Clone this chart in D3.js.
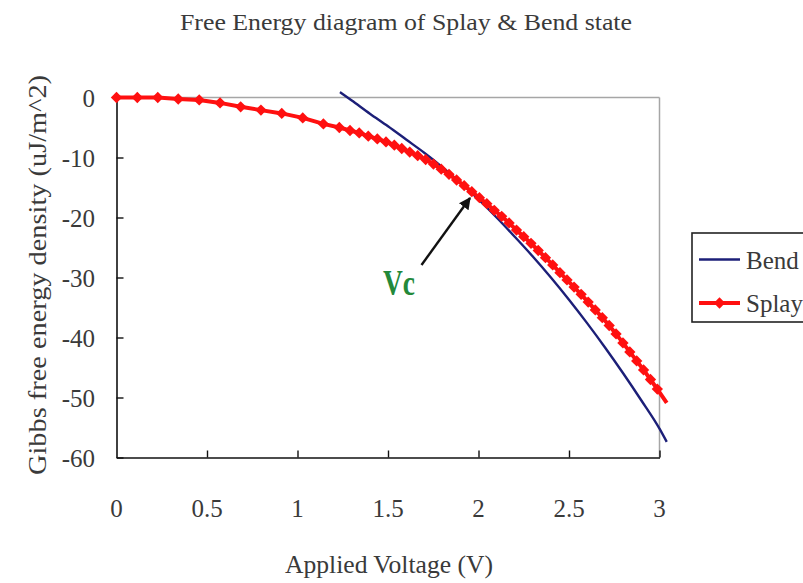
<!DOCTYPE html>
<html>
<head>
<meta charset="utf-8">
<script src="https://cdn.jsdelivr.net/npm/d3@7"></script>
<style>
  html, body { margin: 0; padding: 0; background: #fff; }
  svg { display: block; }
  svg text { font-family: "Liberation Serif", "DejaVu Serif", serif; }
</style>
</head>
<body>
<div id="chart"></div>
<script>
// ---- data ----
const splayVoltage = [0, 0.115, 0.228, 0.341, 0.457, 0.572, 0.686, 0.798, 0.913, 1.029,
  1.143, 1.231, 1.29, 1.341, 1.391, 1.441, 1.489, 1.535, 1.576, 1.62,
  1.664, 1.708, 1.751, 1.794, 1.837, 1.879, 1.921, 1.963, 2.005, 2.046,
  2.087, 2.128, 2.169, 2.21, 2.25, 2.29, 2.33, 2.37, 2.41, 2.45,
  2.489, 2.528, 2.567, 2.606, 2.645, 2.684, 2.722, 2.76, 2.798, 2.836,
  2.874, 2.912, 2.95, 2.988, 3.04];
const splayEnergy = [0, 0, 0, -0.25, -0.4, -0.9, -1.55, -2.1, -2.65, -3.4,
  -4.4, -5.0, -5.5, -5.9, -6.45, -6.9, -7.4, -7.95, -8.5, -9.1,
  -9.7, -10.35, -11.1, -11.95, -12.8, -13.75, -14.7, -15.7, -16.7, -17.7,
  -18.8, -19.8, -20.9, -22.1, -23.2, -24.3, -25.5, -26.7, -27.9, -29.2,
  -30.4, -31.6, -32.8, -34.1, -35.4, -36.7, -38.0, -39.4, -40.9, -42.4,
  -43.9, -45.4, -47.0, -48.6, -50.9];

const bendVoltage = [1.235, 1.3, 1.4, 1.5, 1.6, 1.7, 1.8, 1.9, 2.0, 2.1,
  2.2, 2.3, 2.4, 2.5, 2.6, 2.7, 2.8, 2.9, 3.0, 3.04];
const bendEnergy = [0.9, -0.5, -2.7, -4.8, -7.0, -9.2, -11.6, -14.2, -17.0, -20.0,
  -23.2, -26.5, -30.0, -33.7, -37.6, -41.7, -46.0, -50.5, -55.2, -57.4];

const xTicks = [0, 0.5, 1, 1.5, 2, 2.5, 3];
const xTickLabels = ["0", "0.5", "1", "1.5", "2", "2.5", "3"];
const yTicks = [0, -10, -20, -30, -40, -50, -60];
const seriesNames = ["Bend", "Splay"];
const vcLabel = "Vc";

// ---- setup ----
const width = 803, height = 583;
const plot = { left: 116.5, right: 659.5, top: 97.5, bottom: 457.5 };
const red = "#ff1010", navy = "#1c1f78", axisGray = "#a6a6a6", textGray = "#3a3a3a";
const serif = "Liberation Serif";

const svg = d3.select("#chart").append("svg")
  .attr("width", width)
  .attr("height", height);

svg.append("rect").attr("width", width).attr("height", height).attr("fill", "#fff");

const x = d3.scaleLinear().domain([0, 3]).range([plot.left, plot.right]);
const y = d3.scaleLinear().domain([-60, 0]).range([plot.bottom, plot.top]);

// frame: gray top and right, black axes left and bottom
svg.append("line")
  .attr("x1", plot.left).attr("x2", plot.right)
  .attr("y1", plot.top).attr("y2", plot.top)
  .attr("stroke", axisGray).attr("stroke-width", 1.5);
svg.append("line")
  .attr("x1", plot.right).attr("x2", plot.right)
  .attr("y1", plot.top).attr("y2", plot.bottom)
  .attr("stroke", axisGray).attr("stroke-width", 1.5);

// y axis (ticks point inward)
const yAxis = svg.append("g")
  .attr("transform", `translate(${plot.left},0)`)
  .call(d3.axisRight(y).tickValues(yTicks).tickSize(7).tickSizeOuter(0).tickFormat(""));
yAxis.select(".domain").attr("stroke", "#111").attr("stroke-width", 1.6);
yAxis.selectAll(".tick line").attr("stroke", "#111").attr("stroke-width", 1.4);

svg.append("g").selectAll("text")
  .data(yTicks)
  .join("text")
  .attr("x", 95)
  .attr("y", d => y(d) + 9)
  .attr("text-anchor", "end")
  .attr("font-family", serif)
  .attr("font-size", 25)
  .attr("fill", textGray)
  .text(d => d);

// x axis (ticks point up)
const xAxis = svg.append("g")
  .attr("transform", `translate(0,${plot.bottom})`)
  .call(d3.axisTop(x).tickValues(xTicks.slice(1)).tickSize(7).tickSizeOuter(0).tickFormat(""));
xAxis.select(".domain").attr("stroke", "#111").attr("stroke-width", 1.6);
xAxis.selectAll(".tick line").attr("stroke", "#111").attr("stroke-width", 1.4);

svg.append("g").selectAll("text")
  .data(xTicks)
  .join("text")
  .attr("x", d => x(d))
  .attr("y", 517)
  .attr("text-anchor", "middle")
  .attr("font-family", serif)
  .attr("font-size", 25)
  .attr("fill", textGray)
  .text((d, i) => xTickLabels[i]);

// titles
svg.append("text")
  .attr("x", 406).attr("y", 30)
  .attr("text-anchor", "middle")
  .attr("font-family", serif)
  .attr("font-size", 24)
  .attr("fill", textGray)
  .attr("textLength", 452).attr("lengthAdjust", "spacingAndGlyphs")
  .text("Free Energy diagram of Splay & Bend state");

svg.append("text")
  .attr("x", 389).attr("y", 573)
  .attr("text-anchor", "middle")
  .attr("font-family", serif)
  .attr("font-size", 25)
  .attr("fill", textGray)
  .attr("textLength", 208).attr("lengthAdjust", "spacingAndGlyphs")
  .text("Applied Voltage (V)");

svg.append("text")
  .attr("transform", "translate(46,275) rotate(-90)")
  .attr("text-anchor", "middle")
  .attr("font-family", serif)
  .attr("font-size", 26)
  .attr("fill", textGray)
  .attr("textLength", 400).attr("lengthAdjust", "spacingAndGlyphs")
  .text("Gibbs free energy density (uJ/m^2)");

// ---- series ----
const line = d3.line().x(d => x(d[0])).y(d => y(d[1]));

const bendData = d3.zip(bendVoltage, bendEnergy);
const splayData = d3.zip(splayVoltage, splayEnergy);

svg.append("path")
  .datum(bendData)
  .attr("d", line.curve(d3.curveMonotoneX))
  .attr("fill", "none")
  .attr("stroke", navy)
  .attr("stroke-width", 2.4);

svg.append("path")
  .datum(splayData)
  .attr("d", line.curve(d3.curveLinear))
  .attr("fill", "none")
  .attr("stroke", red)
  .attr("stroke-width", 4);

const marker = d3.symbol().type(d3.symbolSquare).size(64);

svg.append("g").selectAll("path")
  .data(splayData.filter(d => d[0] <= 3))
  .join("path")
  .attr("d", marker)
  .attr("transform", d => `translate(${x(d[0])},${y(d[1])}) rotate(45)`)
  .attr("fill", red);

// ---- Vc annotation ----
const defs = svg.append("defs");
defs.append("marker")
  .attr("id", "arrowhead")
  .attr("viewBox", "0 0 10 10")
  .attr("refX", 9).attr("refY", 5)
  .attr("markerWidth", 5).attr("markerHeight", 5)
  .attr("orient", "auto")
  .append("path")
  .attr("d", "M0,0 L10,5 L0,10 Z")
  .attr("fill", "#111");

svg.append("line")
  .attr("x1", 421.5).attr("y1", 265)
  .attr("x2", 470).attr("y2", 198)
  .attr("stroke", "#111")
  .attr("stroke-width", 2.4)
  .attr("marker-end", "url(#arrowhead)");

svg.append("text")
  .attr("x", 383).attr("y", 295)
  .attr("font-family", serif)
  .attr("font-size", 36)
  .attr("font-weight", "bold")
  .attr("fill", "#23893a")
  .attr("textLength", 32).attr("lengthAdjust", "spacingAndGlyphs")
  .text(vcLabel);

// ---- legend ----
const legend = svg.append("g");
legend.append("rect")
  .attr("x", 692).attr("y", 233)
  .attr("width", 130).attr("height", 89)
  .attr("fill", "#fff")
  .attr("stroke", "#222")
  .attr("stroke-width", 1.6);

const legendY = [259.5, 303];
const legendColors = [navy, red];
seriesNames.forEach((name, i) => {
  legend.append("line")
    .attr("x1", 699).attr("x2", 740)
    .attr("y1", legendY[i]).attr("y2", legendY[i])
    .attr("stroke", legendColors[i])
    .attr("stroke-width", i === 0 ? 2.4 : 4);
  legend.append("text")
    .attr("x", 746).attr("y", legendY[i] + 9)
    .attr("font-family", serif)
    .attr("font-size", 25)
    .attr("fill", textGray)
    .text(name);
});
legend.append("path")
  .attr("d", marker)
  .attr("transform", `translate(719.5,${legendY[1]}) rotate(45)`)
  .attr("fill", red);
</script>
</body>
</html>
